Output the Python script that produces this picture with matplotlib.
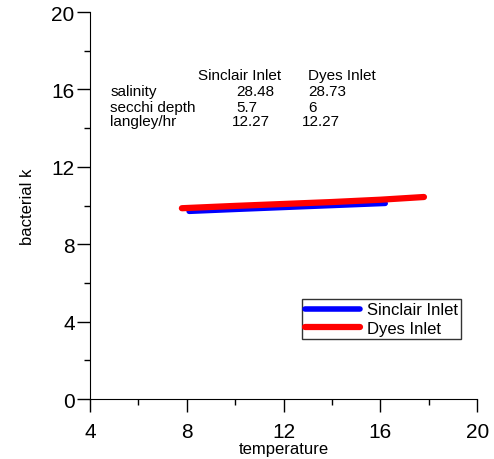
import matplotlib
matplotlib.use("Agg")
import matplotlib.pyplot as plt
from matplotlib.ticker import MultipleLocator

plt.rcParams['font.family'] = ['Liberation Sans', 'DejaVu Sans']

sinclair_temp = [8.1, 10.0, 12.0, 14.0, 16.2]
sinclair_k = [9.70, 9.80, 9.90, 10.00, 10.11]
dyes_temp = [7.8, 10.0, 12.0, 14.0, 16.0, 17.8]
dyes_k = [9.86, 9.98, 10.08, 10.18, 10.30, 10.44]

row_names = ["salinity", "secchi depth", "langley/hr"]
sinclair_vals = ["28.48", "5.7", "12.27"]
dyes_vals = ["28.73", "6", "12.27"]

fig = plt.figure(figsize=(4.94, 4.6), dpi=100)
ax = fig.add_axes([0.182, 0.1304, 0.784, 0.8413])

ax.plot(sinclair_temp, sinclair_k, color='#0000ff', lw=4.0, label='Sinclair Inlet',
        solid_capstyle='round')
ax.plot(dyes_temp, dyes_k, color='#ff0000', lw=4.5, label='Dyes Inlet',
        solid_capstyle='round')

ax.set_xlim(4, 20)
ax.set_ylim(0, 20)
ax.xaxis.set_major_locator(MultipleLocator(4))
ax.xaxis.set_minor_locator(MultipleLocator(2))
ax.yaxis.set_major_locator(MultipleLocator(4))
ax.yaxis.set_minor_locator(MultipleLocator(2))
ax.tick_params(which='major', length=9.5, width=1, labelsize=15, direction='out')
ax.tick_params(axis='y', which='major', pad=1.5)
ax.tick_params(axis='x', which='major', pad=7)
ax.tick_params(which='minor', length=4, width=1, direction='out')
ax.spines['top'].set_visible(False)
ax.spines['right'].set_visible(False)

ax.set_xlabel('temperature', fontsize=12, labelpad=0)
ax.set_ylabel('bacterial k', fontsize=12, labelpad=12)

# little table of site conditions
ax.text(10.2, 16.75, "Sinclair Inlet", fontsize=11, ha='center', va='center')
ax.text(14.4, 16.75, "Dyes Inlet", fontsize=11, ha='center', va='center')
rows_y = [15.9, 15.1, 14.35]
sinclair_x = [10.05, 10.05, 9.85]
dyes_x = [13.0, 13.0, 12.75]
for name, s, d, y, xs, xd in zip(row_names, sinclair_vals, dyes_vals, rows_y,
                                 sinclair_x, dyes_x):
    ax.text(4.85, y, name, fontsize=11, ha='left', va='center')
    ax.text(xs, y, s, fontsize=11, ha='left', va='center')
    ax.text(xd, y, d, fontsize=11, ha='left', va='center')

leg = ax.legend(loc='lower left', bbox_to_anchor=(0.548, 0.155), fontsize=12,
                frameon=True, fancybox=False, borderpad=0.2, handlelength=3.3,
                handletextpad=0.4, labelspacing=0.2, borderaxespad=0)
leg.get_frame().set_edgecolor('black')
leg.get_frame().set_linewidth(1)

fig.savefig('out.png', dpi=100)
